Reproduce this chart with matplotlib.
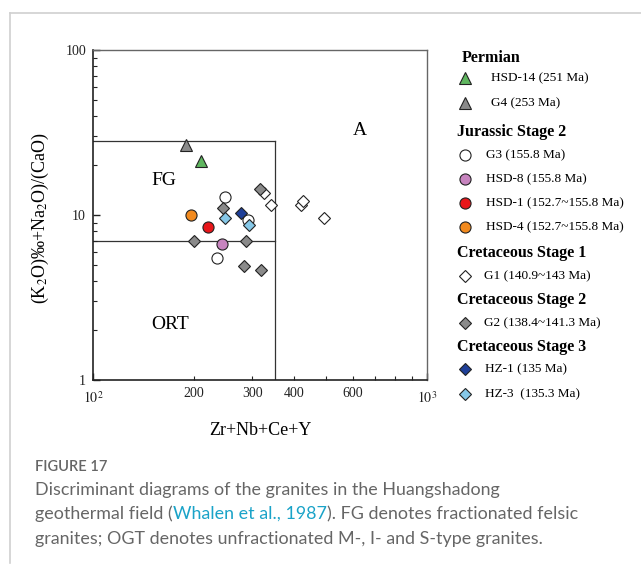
import numpy as np
import matplotlib.pyplot as plt
from matplotlib.lines import Line2D

plt.rcParams['font.family'] = ['Liberation Serif', 'DejaVu Serif']
plt.rcParams['mathtext.fontset'] = 'stix'

# Zr+Nb+Ce+Y (ppm) and (K2O+Na2O)/CaO for each sample group
hsd14_x = [211]
hsd14_y = [21.1]
g4_x = [190]
g4_y = [26.6]
g3_x = [248, 235, 292]
g3_y = [12.8, 5.5, 9.3]
hsd8_x = [244]
hsd8_y = [6.7]
hsd1_x = [221]
hsd1_y = [8.5]
hsd4_x = [196]
hsd4_y = [10.0]
g1_x = [324, 340, 420, 425, 491]
g1_y = [13.5, 11.5, 11.5, 12.2, 9.55]
g2_x = [245, 201, 288, 284, 318, 316]
g2_y = [11.0, 7.0, 6.96, 4.9, 4.66, 14.4]
hz1_x = [278]
hz1_y = [10.3]
hz3_x = [249, 294]
hz3_y = [9.55, 8.66]

# Whalen et al. (1987) field boundaries
fg_top = 28
fg_bottom = 7
fg_right = 350

groups = [
    ('Permian', [
        ('HSD-14 (251 Ma)', hsd14_x, hsd14_y, '^', '#5fb65f'),
        ('G4 (253 Ma)', g4_x, g4_y, '^', '#8a8a8a'),
    ]),
    ('Jurassic Stage 2', [
        ('G3 (155.8 Ma)', g3_x, g3_y, 'o', 'white'),
        ('HSD-8 (155.8 Ma)', hsd8_x, hsd8_y, 'o', '#c784bf'),
        ('HSD-1 (152.7~155.8 Ma)', hsd1_x, hsd1_y, 'o', '#e8161a'),
        ('HSD-4 (152.7~155.8 Ma)', hsd4_x, hsd4_y, 'o', '#f28a1e'),
    ]),
    ('Cretaceous Stage 1', [
        ('G1 (140.9~143 Ma)', g1_x, g1_y, 'D', 'white'),
    ]),
    ('Cretaceous Stage 2', [
        ('G2 (138.4~141.3 Ma)', g2_x, g2_y, 'D', '#8a8a8a'),
    ]),
    ('Cretaceous Stage 3', [
        ('HZ-1 (135 Ma)', hz1_x, hz1_y, 'D', '#1f3f98'),
        ('HZ-3  (135.3 Ma)', hz3_x, hz3_y, 'D', '#86c8e8'),
    ]),
]
msize = {'^': 8, 'o': 8, 'D': 6.5}

fig = plt.figure(figsize=(6.41, 5.66), dpi=100)
ax = fig.add_axes([93 / 641, 1 - 380 / 566, 334 / 641, 330 / 566])
ax.set_xscale('log')
ax.set_yscale('log')
ax.set_xlim(100, 1000)
ax.set_ylim(1, 100)

# field boundaries
ax.plot([100, fg_right], [fg_top, fg_top], color='#333333', lw=0.9, zorder=1)
ax.plot([100, fg_right], [fg_bottom, fg_bottom], color='#333333', lw=0.9, zorder=1)
ax.plot([fg_right, fg_right], [1, fg_top], color='#333333', lw=0.9, zorder=1)

# draw order: open diamonds below the grey ones
draw_order = [(2, 0), (3, 0), (1, 0), (1, 1), (1, 2), (1, 3), (0, 0), (0, 1), (4, 0), (4, 1)]
for gi, ii in draw_order:
    label, xs, ys, mk, col = groups[gi][1][ii]
    ax.plot(xs, ys, ls='none', marker=mk, ms=msize[mk], mfc=col, mec='#222222',
            mew=0.8, zorder=3)

ax.text(163, 16.1, 'FG', fontsize=14, ha='center', va='center')
ax.text(170, 2.18, 'ORT', fontsize=14, ha='center', va='center')
ax.text(630, 32.7, 'A', fontsize=14, ha='center', va='center')

ax.set_xticks([100, 1000])
ax.set_xticklabels(['$10^2$', '$10^3$'])
ax.set_xticks([200, 300, 400, 500, 600, 700, 800, 900], minor=True)
ax.set_xticklabels(['200', '300', '400', '', '600', '', '', ''], minor=True)
ax.set_yticks([1, 10, 100])
ax.set_yticklabels(['1', '10', '100'])
ax.yaxis.set_minor_formatter(plt.NullFormatter())
ax.tick_params(which='both', direction='in', labelsize=10, colors='#222222',
               top=False, right=False)
ax.tick_params(which='major', length=5, width=1)
ax.tick_params(which='minor', length=3, width=0.8)
ax.tick_params(axis='x', which='minor', pad=5)
ax.tick_params(axis='x', which='major', pad=7)
ax.tick_params(axis='y', which='major', pad=5)
for side in ['left', 'bottom']:
    ax.spines[side].set_color('#222222')
    ax.spines[side].set_linewidth(1.2)
for side in ['top', 'right']:
    ax.spines[side].set_color('#666666')
    ax.spines[side].set_linewidth(1.0)

ax.set_xlabel('Zr+Nb+Ce+Y', fontsize=13, labelpad=12)
ax.set_ylabel('(K$_2$O)‰+Na$_2$O)/(CaO)', fontsize=13, labelpad=6)
ax.yaxis.set_label_coords(-0.125, 0.49)

# legend drawn in pixel coordinates of the whole figure
lax = fig.add_axes([0, 0, 1, 1], facecolor='none')
lax.set_xlim(0, 641)
lax.set_ylim(566, 0)
lax.axis('off')

row_y = [58, 78, 103, 132, 155, 179, 203, 227, 253, 276, 300, 323, 347, 369, 394]
text_x = [None, 491, 491, None, 486, 486, 486, 486, None, 484, None, 484, None, 485, 485]
k = 0
for head, items in groups:
    hx = 462 if k == 0 else 457
    lax.text(hx, row_y[k], head, fontsize=11.5, fontweight='bold', va='center', ha='left')
    k += 1
    for label, xs, ys, mk, col in items:
        lax.plot([465], [row_y[k]], ls='none', marker=mk, ms=msize[mk], mfc=col,
                 mec='#222222', mew=0.8)
        lax.text(text_x[k], row_y[k], label, fontsize=9.5, va='center', ha='left')
        k += 1

# panel frame
fig.add_artist(Line2D([10 / 641, 10 / 641], [1 - 563 / 566, 1 - 13 / 566],
                      color='#d0d0d0', lw=1.2, transform=fig.transFigure))
fig.add_artist(Line2D([10 / 641, 1], [1 - 13 / 566, 1 - 13 / 566],
                      color='#d0d0d0', lw=1.2, transform=fig.transFigure))

# caption
cap_font = ['Lato', 'DejaVu Sans']
cap_col = '#666666'
link_col = '#1aa3c8'
cap_x = 35
fig.text(cap_x / 641, 1 - 467 / 566, 'FIGURE 17', fontsize=10.5, family=cap_font,
         fontweight='semibold', color=cap_col, va='center')
cap_lines = [
    [('Discriminant diagrams of the granites in the Huangshadong', cap_col)],
    [('geothermal field (', cap_col), ('Whalen et al., 1987', link_col),
     ('). FG denotes fractionated felsic', cap_col)],
    [('granites; OGT denotes unfractionated M-, I- and S-type granites.', cap_col)],
]
cap_y = [490, 514, 539]
fig.canvas.draw()
renderer = fig.canvas.get_renderer()
for segs, yy in zip(cap_lines, cap_y):
    xpix = cap_x
    for s, c in segs:
        t = lax.text(xpix, yy, s, fontsize=12.9, family=cap_font, fontweight='normal',
                     color=c, va='center', ha='left')
        bb = t.get_window_extent(renderer)
        xpix += bb.width

fig.savefig('out.png', dpi=100)
